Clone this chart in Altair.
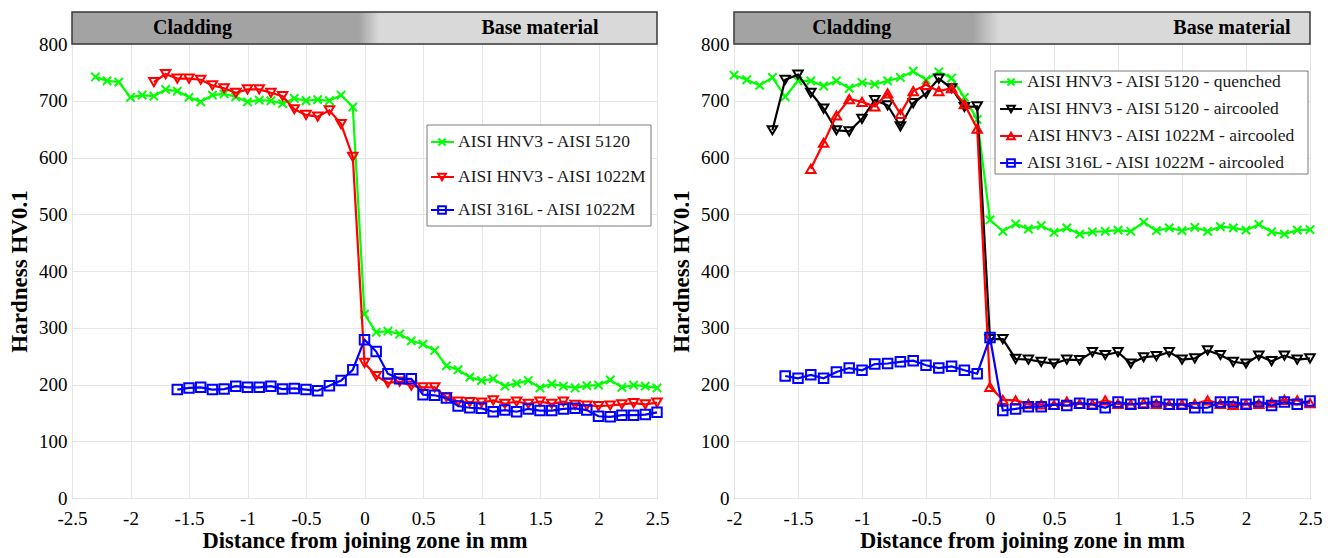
import altair as alt
import pandas as pd

FONT = "Liberation Serif"

# measurement positions (mm); every series ends at 2.5 and uses the tail of this list
POSITIONS = [-2.3, -2.2, -2.1, -2.0, -1.9, -1.8, -1.7, -1.6, -1.5, -1.4, -1.3, -1.2,
             -1.1, -1.0, -0.9, -0.8, -0.7, -0.6, -0.5, -0.4, -0.3, -0.2, -0.1, 0.0,
             0.1, 0.2, 0.3, 0.4, 0.5, 0.6, 0.7, 0.8, 0.9, 1.0, 1.1, 1.2, 1.3, 1.4,
             1.5, 1.6, 1.7, 1.8, 1.9, 2.0, 2.1, 2.2, 2.3, 2.4, 2.5]

# ---------------- left panel ----------------
L_labels = ["AISI HNV3 - AISI 5120", "AISI HNV3 - AISI 1022M", "AISI 316L - AISI 1022M"]
L_hnv3_5120 = [742, 735, 733, 706, 710, 708, 720, 717, 706, 698, 710, 712, 707, 698, 701,
               700, 695, 704, 700, 702, 700, 710, 689,
               324, 292, 294, 289, 277, 271, 260, 233, 226, 213, 207, 210, 197, 202, 207,
               194, 201, 197, 194, 198, 199, 208, 195, 199, 197, 194]
L_hnv3_1022 = [733, 747, 739, 739, 737, 727, 722, 714, 720, 720, 714, 708, 685, 675, 672,
               683, 659, 601,
               238, 215, 203, 205, 198, 195, 195, 178, 170, 169, 168, 172, 166, 170, 166,
               170, 166, 170, 164, 163, 162, 163, 165, 167, 165, 168]
L_316_1022 = [191, 194, 195, 191, 192, 197, 195, 195, 197, 192, 193, 191, 189, 198, 207, 226,
              279, 258, 219, 210, 210, 182, 181, 176, 162, 159, 158, 152, 155, 152, 157,
              154, 154, 157, 158, 155, 144, 143, 146, 146, 147, 151]

# ---------------- right panel ----------------
R_labels = ["AISI HNV3 - AISI 5120 - quenched", "AISI HNV3 - AISI 5120 - aircooled",
            "AISI HNV3 - AISI 1022M - aircooled", "AISI 316L - AISI 1022M - aircooled"]
R_5120_q = [745, 737, 727, 741, 707, 735, 735, 726, 735, 722, 732, 729, 735, 741, 752, 737,
            751, 740, 706, 667,
            490, 470, 483, 474, 480, 468, 476, 465, 469, 470, 472, 470, 486, 471, 476,
            471, 477, 470, 478, 476, 472, 482, 469, 465, 472, 473]
R_5120_a = [648, 737, 746, 714, 686, 648, 646, 668, 701, 692, 655, 696, 713, 739, 722, 689, 690,
            280, 280, 245, 244, 240, 237, 244, 243, 257, 252, 257, 237, 248, 250, 257,
            244, 246, 260, 252, 240, 237, 251, 241, 251, 244, 246]
R_1022_a = [580, 626, 674, 703, 698, 690, 713, 677, 717, 728, 717, 722, 694, 651,
            196, 173, 172, 166, 165, 164, 170, 166, 165, 172, 166, 165, 167, 166, 164,
            165, 166, 172, 166, 164, 165, 166, 168, 173, 172, 167]
R_316_a = [215, 211, 217, 211, 222, 229, 225, 236, 237, 240, 242, 234, 229, 232, 225, 219,
           283, 154, 157, 161, 161, 165, 163, 167, 165, 159, 169, 165, 167, 170, 165, 165,
           159, 159, 169, 169, 165, 170, 163, 169, 165, 171]

Y_TICKS = [0, 100, 200, 300, 400, 500, 600, 700, 800]
L_X_TICKS = [-2.5, -2, -1.5, -1, -0.5, 0, 0.5, 1, 1.5, 2, 2.5]
R_X_TICKS = [-2, -1.5, -1, -0.5, 0, 0.5, 1, 1.5, 2, 2.5]
HEADER_TEXT = ["Cladding", "Base material"]
L_HEADER_AT = [-1.47, 1.5]
R_HEADER_AT = [-1.08, 1.89]

X_SHAPE = "M-1,-1L1,1M-1,1L1,-1"
GREEN, RED, BLUE, BLACK = "#00ff00", "#ff0000", "#0000ff", "#000000"

LABEL_EXPR = "datum.value < 0 ? '-' + format(-datum.value, '~g') : format(datum.value, '~g')"


def xdef(ticks):
    return alt.X("x:Q", scale=alt.Scale(domain=[ticks[0], ticks[-1]], nice=False, zero=False),
                 axis=alt.Axis(values=ticks, labelExpr=LABEL_EXPR, labelFlush=False),
                 title="Distance from joining zone in mm")


YDEF = alt.Y("y:Q", scale=alt.Scale(domain=[0, 800], nice=False),
             axis=alt.Axis(values=Y_TICKS, labelFlush=False), title="Hardness HV0.1")


def series(vals, color, shape, xd, size):
    df = pd.DataFrame({"x": POSITIONS[-len(vals):], "y": vals})
    base = alt.Chart(df)
    line = base.mark_line(color=color, strokeWidth=2.2).encode(x=xd, y=YDEF)
    pts = base.mark_point(shape=shape, color=color, filled=False, strokeWidth=2,
                          size=size, opacity=1).encode(x=xd, y=YDEF)
    return [line, pts]


def header(ticks, at, o1, o2):
    xd = xdef(ticks)
    grad = alt.Gradient(gradient="linear",
                        stops=[alt.GradientStop(color="#a3a3a3", offset=0),
                               alt.GradientStop(color="#a3a3a3", offset=o1),
                               alt.GradientStop(color="#d9d9d9", offset=o2),
                               alt.GradientStop(color="#d9d9d9", offset=1)],
                        x1=0, x2=1, y1=0, y2=0)
    rect = alt.Chart(pd.DataFrame({"x": [ticks[0]], "x2": [ticks[-1]]})).mark_rect(
        fill=grad, stroke="#3a3a3a", strokeWidth=1.5).encode(
        x=xd, x2="x2:Q", y=alt.value(-32), y2=alt.value(0))
    txt = alt.Chart(pd.DataFrame({"x": at, "t": HEADER_TEXT})).mark_text(
        font=FONT, fontSize=20, fontWeight="bold", baseline="middle", color="black").encode(
        x=xd, y=alt.value(-16), text="t:N")
    return [rect, txt]


def legend(entries, box, row_y, line_x, mark_x, text_x, fsize, sizes):
    one = pd.DataFrame({"a": [0]})
    out = [alt.Chart(one).mark_rect(fill="white", stroke="#7a7a7a", strokeWidth=1).encode(
        x=alt.value(box[0]), x2=alt.value(box[1]), y=alt.value(box[2]), y2=alt.value(box[3]))]
    for (label, color, shape), ry, sz in zip(entries, row_y, sizes):
        out.append(alt.Chart(one).mark_rule(color=color, strokeWidth=2).encode(
            x=alt.value(line_x[0]), x2=alt.value(line_x[1]), y=alt.value(ry)))
        out.append(alt.Chart(one).mark_point(shape=shape, color=color, filled=False,
                                             strokeWidth=2, size=sz, opacity=1).encode(
            x=alt.value(mark_x), y=alt.value(ry)))
        out.append(alt.Chart(pd.DataFrame({"t": [label]})).mark_text(
            font=FONT, fontSize=fsize, align="left", baseline="middle", color="#1a1a1a").encode(
            x=alt.value(text_x), y=alt.value(ry), text="t:N"))
    return out


# left panel
xl = xdef(L_X_TICKS)
left_layers = header(L_X_TICKS, L_HEADER_AT, 0.49, 0.525)
left_layers += series(L_hnv3_5120, GREEN, X_SHAPE, xl, 70)
left_layers += series(L_hnv3_1022, RED, "triangle-down", xl, 90)
left_layers += series(L_316_1022, BLUE, "square", xl, 90)
left_layers += legend(list(zip(L_labels, [GREEN, RED, BLUE], [X_SHAPE, "triangle-down", "square"])),
                      box=[355, 579, 81, 182], row_y=[98, 133, 166],
                      line_x=[359, 382], mark_x=370, text_x=386, fsize=17.5,
                      sizes=[50, 60, 60])
left = alt.layer(*left_layers).properties(width=585, height=454)

# right panel
xr = xdef(R_X_TICKS)
right_layers = header(R_X_TICKS, R_HEADER_AT, 0.415, 0.46)
right_layers += series(R_5120_q, GREEN, X_SHAPE, xr, 70)
right_layers += series(R_5120_a, BLACK, "triangle-down", xr, 90)
right_layers += series(R_1022_a, RED, "triangle-up", xr, 90)
right_layers += series(R_316_a, BLUE, "square", xr, 90)
right_layers += legend(list(zip(R_labels, [GREEN, BLACK, RED, BLUE],
                                [X_SHAPE, "triangle-down", "triangle-up", "square"])),
                       box=[261, 574, 27, 130], row_y=[38, 65, 92, 119],
                       line_x=[266, 288], mark_x=277, text_x=293, fsize=17.5,
                       sizes=[50, 60, 60, 60])
right = alt.layer(*right_layers).properties(width=576, height=454)

chart = alt.hconcat(left, right, spacing=77, bounds="flush").properties(
    padding={"left": 0, "top": 2, "right": 2, "bottom": 4}
).configure_view(stroke="#4d4d4d", strokeWidth=1).configure_axis(
    grid=True, gridColor="#e6e6e6", gridWidth=1, domain=False, ticks=False,
    labelFont=FONT, labelFontSize=19, labelColor="black", labelPadding=5,
    titleFont=FONT, titleFontWeight="bold", titleColor="black"
).configure_axisY(titlePadding=7, titleFontSize=23).configure_axisX(
    titlePadding=1, titleFontSize=22.5, labelPadding=11)

chart.save("out.html", embed_options={"renderer": "svg", "actions": False})
